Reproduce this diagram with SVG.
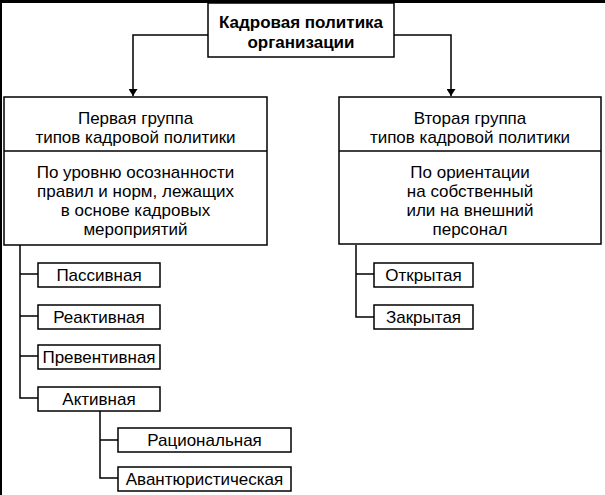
<svg xmlns="http://www.w3.org/2000/svg" width="605" height="495" viewBox="0 0 605 495">
<style>
.b{fill:#fff;stroke:#000;stroke-width:1.5}
.t{font-family:"Liberation Sans",Arial,sans-serif;font-size:17px;fill:#000;text-anchor:middle}
.bold{font-weight:bold}
.c{fill:none;stroke:#000;stroke-width:1.5}
</style>
<defs>
<marker id="ah" viewBox="0 0 10 10" refX="10" refY="5" markerWidth="7" markerHeight="9" markerUnits="userSpaceOnUse" orient="auto" preserveAspectRatio="none">
<path d="M0,0 L10,5 L0,10 z" fill="#000"/>
</marker>
</defs>
<rect x="0" y="0" width="605" height="495" fill="#fff"/>
<rect x="0" y="0" width="605" height="3" fill="#000"/>
<rect x="0" y="0" width="2" height="495" fill="#000"/>
<g id="connectors">
<path class="c" d="M208,35 H133 V96" marker-end="url(#ah)"/>
<path class="c" d="M394,35 H451 V96" marker-end="url(#ah)"/>
<path class="c" d="M20,245 V398 H38 M20,274 H38 M20,316 H38 M20,356 H38"/>
<path class="c" d="M100,410 V478 H118 M100,440 H118"/>
<path class="c" d="M356,245 V317 H374 M356,274 H374"/>
</g>
<g id="root">
<rect class="b" x="208" y="3" width="186" height="54"/>
<text class="t bold" x="301" y="28">Кадровая политика</text>
<text class="t bold" x="301" y="48">организации</text>
</g>
<g id="group1">
<rect class="b" x="4" y="97" width="263" height="148"/>
<line class="c" x1="4" y1="151" x2="267" y2="151"/>
<text class="t" x="135.5" y="124">Первая группа</text>
<text class="t" x="135.5" y="143">типов кадровой политики</text>
<text class="t" x="135.5" y="178">По уровню осознанности</text>
<text class="t" x="135.5" y="197">правил и норм, лежащих</text>
<text class="t" x="135.5" y="216">в основе кадровых</text>
<text class="t" x="135.5" y="235">мероприятий</text>
</g>
<g id="group2">
<rect class="b" x="339" y="97" width="262" height="147"/>
<line class="c" x1="339" y1="151" x2="601" y2="151"/>
<text class="t" x="470" y="124">Вторая группа</text>
<text class="t" x="470" y="143">типов кадровой политики</text>
<text class="t" x="470" y="178">По ориентации</text>
<text class="t" x="470" y="197">на собственный</text>
<text class="t" x="470" y="216">или на внешний</text>
<text class="t" x="470" y="235">персонал</text>
</g>
<g id="passive"><rect class="b" x="38" y="263" width="122" height="24"/><text class="t" x="99" y="281">Пассивная</text></g>
<g id="reactive"><rect class="b" x="38" y="305" width="122" height="24"/><text class="t" x="99" y="323">Реактивная</text></g>
<g id="preventive"><rect class="b" x="38" y="345" width="122" height="24"/><text class="t" x="99" y="363">Превентивная</text></g>
<g id="active"><rect class="b" x="38" y="387" width="122" height="24"/><text class="t" x="99" y="405">Активная</text></g>
<g id="rational"><rect class="b" x="118" y="428" width="173" height="24"/><text class="t" x="204.5" y="446">Рациональная</text></g>
<g id="adventurous"><rect class="b" x="118" y="467" width="173" height="24"/><text class="t" x="204.5" y="485">Авантюристическая</text></g>
<g id="open"><rect class="b" x="374" y="263" width="99" height="24"/><text class="t" x="423.5" y="281">Открытая</text></g>
<g id="closed"><rect class="b" x="374" y="305" width="99" height="24"/><text class="t" x="423.5" y="323">Закрытая</text></g>
</svg>
